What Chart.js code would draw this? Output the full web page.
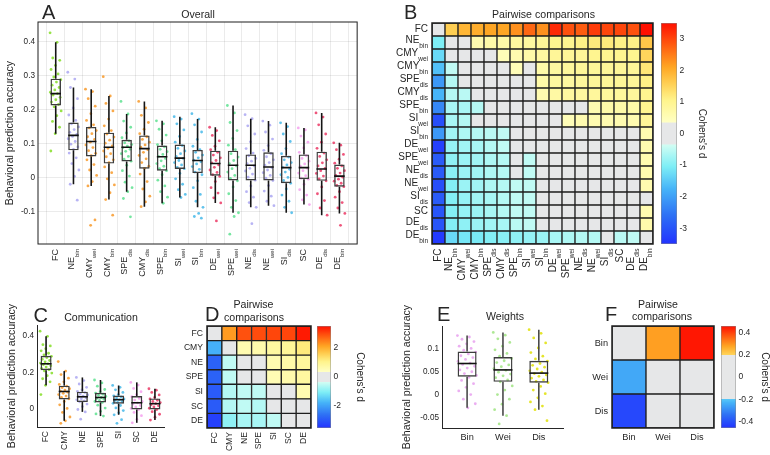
<!DOCTYPE html>
<html>
<head>
<meta charset="utf-8">
<script src="https://cdn.jsdelivr.net/npm/chart.js@4.4.0/dist/chart.umd.min.js"></script>
<style>
body { margin: 0; background: #fff; }
#fig { position: relative; width: 770px; height: 455px; overflow: hidden; font-family: 'Liberation Sans', Arial, Helvetica, sans-serif; color: #262626; }
#fig canvas { position: absolute; }
.t { position: absolute; white-space: nowrap; line-height: 1; }
.letter { font-size: 20px; }
.ttl { font-size: 10.6px; transform: translateX(-50%); }
</style>
</head>
<body>
<div id="fig">
  <canvas id="cA"></canvas>
  <canvas id="cB"></canvas>
  <canvas id="cBbar"></canvas>
  <canvas id="cC"></canvas>
  <canvas id="cD"></canvas>
  <canvas id="cDbar"></canvas>
  <canvas id="cE"></canvas>
  <canvas id="cF"></canvas>
  <canvas id="cFbar"></canvas>

  <div class="t letter" style="left:42px;top:2px">A</div>
  <div class="t letter" style="left:404px;top:1.5px">B</div>
  <div class="t letter" style="left:33.5px;top:304.5px">C</div>
  <div class="t letter" style="left:205px;top:304px">D</div>
  <div class="t letter" style="left:437px;top:304px">E</div>
  <div class="t letter" style="left:605px;top:304px">F</div>

  <div class="t ttl" style="left:198px;top:9.3px">Overall</div>
  <div class="t ttl" style="left:543.5px;top:9.3px">Pairwise comparisons</div>
  <div class="t ttl" style="left:101px;top:311.7px">Communication</div>
  <div class="t ttl" style="left:253.5px;top:299px">Pairwise</div>
  <div class="t ttl" style="left:254px;top:311.7px">comparisons</div>
  <div class="t ttl" style="left:505px;top:311px">Weights</div>
  <div class="t ttl" style="left:658px;top:298.5px">Pairwise</div>
  <div class="t ttl" style="left:662px;top:311px">comparisons</div>
</div>

<script>
// ---------- labels shared by A and B (same order) ----------
const pairMain = ['FC','NE','CMY','CMY','SPE','CMY','SPE','SI','SI','DE','SPE','NE','NE','SI','SC','DE','DE'];
const pairSub  = ['','bin','wei','bin','dis','dis','bin','wei','bin','wei','wei','dis','wei','dis','','dis','bin'];

// ---------- A : overall ----------
const aYTicks = [-0.1, 0, 0.1, 0.2, 0.3, 0.4];
const aQ1  = [0.212, 0.080, 0.062, 0.041, 0.047, 0.026, 0.020, 0.025, 0.013, 0.005, -0.009, -0.009, -0.009, -0.017, -0.005, -0.010, -0.027];
const aMed = [0.247, 0.124, 0.106, 0.089, 0.089, 0.085, 0.061, 0.057, 0.050, 0.041, 0.036, 0.036, 0.031, 0.029, 0.029, 0.025, 0.004];
const aQ3  = [0.291, 0.162, 0.149, 0.132, 0.111, 0.124, 0.094, 0.097, 0.081, 0.079, 0.079, 0.068, 0.074, 0.064, 0.068, 0.076, 0.038];
const aLow = [0.129, -0.020, -0.025, -0.065, -0.042, -0.086, -0.076, -0.059, -0.088, -0.075, -0.104, -0.088, -0.083, -0.104, -0.080, -0.111, -0.106];
const aHigh= [0.398, 0.265, 0.260, 0.240, 0.187, 0.224, 0.167, 0.179, 0.172, 0.148, 0.212, 0.173, 0.166, 0.161, 0.146, 0.190, 0.102];
const aPoints = [
  [0.426, 0.398, 0.352, 0.345, 0.33, 0.318, 0.305, 0.296, 0.288, 0.281, 0.272, 0.265, 0.258, 0.251, 0.247, 0.243, 0.236, 0.229, 0.222, 0.215, 0.208, 0.196, 0.182, 0.165, 0.148, 0.129, 0.078],
  [0.31, 0.29, 0.265, 0.232, 0.205, 0.184, 0.168, 0.158, 0.149, 0.141, 0.133, 0.127, 0.121, 0.114, 0.106, 0.098, 0.09, 0.083, 0.072, 0.058, 0.041, 0.022, 0.003, -0.02, -0.067],
  [0.26, 0.253, 0.232, 0.21, 0.188, 0.168, 0.155, 0.146, 0.138, 0.129, 0.12, 0.112, 0.104, 0.096, 0.088, 0.079, 0.071, 0.064, 0.052, 0.038, 0.022, 0.006, -0.012, -0.025, -0.125, -0.141],
  [0.297, 0.24, 0.218, 0.196, 0.172, 0.152, 0.138, 0.128, 0.119, 0.11, 0.101, 0.093, 0.086, 0.078, 0.07, 0.061, 0.052, 0.044, 0.031, 0.014, -0.004, -0.022, -0.045, -0.065, -0.111],
  [0.224, 0.187, 0.166, 0.148, 0.131, 0.117, 0.108, 0.102, 0.097, 0.092, 0.088, 0.083, 0.077, 0.07, 0.062, 0.054, 0.048, 0.036, 0.02, 0.004, -0.014, -0.03, -0.042, -0.062, -0.116],
  [0.224, 0.205, 0.183, 0.162, 0.142, 0.129, 0.12, 0.112, 0.104, 0.096, 0.089, 0.082, 0.074, 0.065, 0.055, 0.044, 0.033, 0.027, 0.01, -0.012, -0.034, -0.055, -0.072, -0.086],
  [0.167, 0.158, 0.142, 0.125, 0.108, 0.097, 0.09, 0.083, 0.076, 0.068, 0.062, 0.056, 0.049, 0.041, 0.033, 0.026, 0.02, 0.008, -0.008, -0.025, -0.042, -0.058, -0.076],
  [0.179, 0.172, 0.158, 0.14, 0.121, 0.104, 0.094, 0.086, 0.078, 0.07, 0.062, 0.056, 0.05, 0.044, 0.037, 0.03, 0.026, 0.012, -0.004, -0.02, -0.036, -0.05, -0.059],
  [0.188, 0.172, 0.155, 0.134, 0.112, 0.092, 0.082, 0.074, 0.066, 0.058, 0.051, 0.046, 0.04, 0.032, 0.024, 0.016, 0.008, -0.01, -0.03, -0.05, -0.07, -0.088, -0.106, -0.115, -0.12],
  [0.148, 0.138, 0.124, 0.108, 0.092, 0.082, 0.074, 0.066, 0.058, 0.05, 0.043, 0.037, 0.03, 0.022, 0.015, 0.008, 0.003, -0.012, -0.03, -0.046, -0.06, -0.075, -0.128],
  [0.212, 0.19, 0.162, 0.138, 0.115, 0.095, 0.082, 0.07, 0.06, 0.05, 0.041, 0.034, 0.026, 0.016, 0.006, -0.003, -0.01, -0.028, -0.048, -0.068, -0.088, -0.104, -0.115, -0.167],
  [0.185, 0.173, 0.152, 0.128, 0.105, 0.085, 0.072, 0.064, 0.056, 0.048, 0.041, 0.034, 0.027, 0.019, 0.01, 0.001, -0.008, -0.025, -0.042, -0.058, -0.074, -0.088, -0.136],
  [0.166, 0.154, 0.134, 0.113, 0.094, 0.08, 0.07, 0.061, 0.052, 0.044, 0.036, 0.029, 0.022, 0.014, 0.006, -0.002, -0.009, -0.024, -0.04, -0.055, -0.07, -0.083],
  [0.161, 0.15, 0.128, 0.106, 0.085, 0.07, 0.06, 0.052, 0.044, 0.037, 0.03, 0.024, 0.016, 0.008, 0.0, -0.009, -0.017, -0.034, -0.052, -0.07, -0.088, -0.104],
  [0.146, 0.14, 0.122, 0.104, 0.087, 0.074, 0.064, 0.056, 0.048, 0.04, 0.033, 0.027, 0.02, 0.013, 0.005, -0.002, -0.005, -0.02, -0.036, -0.052, -0.066, -0.08],
  [0.19, 0.178, 0.155, 0.128, 0.104, 0.086, 0.072, 0.062, 0.052, 0.043, 0.034, 0.027, 0.02, 0.012, 0.004, -0.004, -0.01, -0.028, -0.048, -0.068, -0.09, -0.111],
  [0.102, 0.095, 0.082, 0.068, 0.054, 0.042, 0.034, 0.027, 0.02, 0.013, 0.006, 0.001, -0.005, -0.011, -0.017, -0.023, -0.027, -0.042, -0.058, -0.074, -0.09, -0.106, -0.141]
];

// ---------- B : pairwise Cohen's d (rows/cols in pair order) ----------
const bTicks = [-3, -2, -1, 0, 1, 2, 3];
const bD = [
  [0, 1.6, 1.9, 2.0, 2.1, 2.1, 2.3, 2.7, 2.3, 3.25, 2.9, 2.8, 3.1, 3.0, 3.0, 2.9, 3.5],
  [-1.05, 0, 0, 0.6, 0.7, 0.7, 0.8, 0.8, 0.9, 1.0, 1.0, 1.1, 1.2, 1.2, 1.1, 1.1, 1.7],
  [-1.3, 0, 0, 0, 0, 0.5, 0.6, 0.7, 0.8, 0.9, 0.9, 0.9, 1.0, 1.0, 1.0, 1.0, 1.5],
  [-1.6, -0.5, 0, 0, 0, 0, 0.5, 0, 0.7, 0.8, 0.85, 0.9, 0.9, 0.9, 0.9, 0.9, 1.25],
  [-2.1, -0.6, 0, 0, 0, 0, 0, 0, 0.7, 0.8, 0.8, 0.85, 0.9, 0.9, 0.9, 0.9, 1.1],
  [-1.75, -0.6, -0.55, 0, 0, 0, 0, 0, 0.6, 0.75, 0.8, 0.8, 0.85, 0.85, 0.85, 0.85, 1.0],
  [-2.3, -0.7, -0.7, -0.6, 0, 0, 0, 0, 0, 0, 0, 0, 0.6, 0.7, 0.7, 0.7, 1.0],
  [-3.1, -0.7, -0.6, 0, 0, 0, 0, 0, 0, 0, 0.5, 0.6, 0.6, 0.6, 0.6, 0.6, 0.9],
  [-2.1, -0.75, -0.65, -0.6, -0.55, -0.5, 0, 0, 0, 0, 0, 0, 0, 0, 0, 0, 0.6],
  [-3.3, -0.85, -0.75, -0.7, -0.6, -0.5, 0, 0, 0, 0, 0, 0, 0, 0, 0, 0, 0.6],
  [-2.9, -0.9, -0.8, -0.75, -0.65, -0.6, 0, -0.5, 0, 0, 0, 0, 0, 0, 0, 0, 0.6],
  [-2.9, -0.95, -0.8, -0.75, -0.65, -0.6, 0, -0.5, 0, 0, 0, 0, 0, 0, 0, 0, 0.6],
  [-3.1, -1.0, -0.8, -0.75, -0.65, -0.6, -0.5, -0.5, 0, 0, 0, 0, 0, 0, 0, 0, 0.6],
  [-2.9, -1.0, -0.85, -0.75, -0.7, -0.6, -0.5, -0.5, 0, 0, 0, 0, 0, 0, 0, 0, 0],
  [-3.0, -1.0, -0.85, -0.8, -0.7, -0.6, -0.5, -0.5, 0, 0, 0, 0, 0, 0, 0, 0, 0.6],
  [-3.0, -1.0, -0.9, -0.8, -0.75, -0.7, -0.55, -0.5, 0, 0, 0, 0, 0, 0, 0, 0, 0.65],
  [-3.4, -1.3, -1.15, -1.1, -1.0, -0.95, -0.9, -0.85, -0.8, -0.7, -0.65, -0.6, -0.6, 0, -0.55, -0.5, 0]
];

// ---------- C : communication ----------
const cLabels = ['FC', 'CMY', 'NE', 'SPE', 'SI', 'SC', 'DE'];
const cYTicks = [0, 0.2, 0.4];
const cQ1  = [0.212, 0.051, 0.037, 0.035, 0.028, -0.004, -0.004];
const cMed = [0.247, 0.095, 0.066, 0.062, 0.050, 0.033, 0.028];
const cQ3  = [0.291, 0.127, 0.094, 0.088, 0.073, 0.070, 0.057];
const cLow = [0.129, -0.066, -0.017, -0.040, -0.033, -0.077, -0.062];
const cHigh= [0.398, 0.207, 0.172, 0.158, 0.128, 0.145, 0.110];
const cPoints = [
  aPoints[0],
  [0.259, 0.207, 0.188, 0.168, 0.148, 0.134, 0.124, 0.117, 0.11, 0.103, 0.097, 0.091, 0.085, 0.078, 0.07, 0.062, 0.055, 0.04, 0.022, 0.002, -0.02, -0.045, -0.066, -0.08],
  [0.172, 0.155, 0.136, 0.118, 0.104, 0.096, 0.089, 0.082, 0.076, 0.07, 0.066, 0.061, 0.055, 0.049, 0.043, 0.038, 0.026, 0.012, -0.004, -0.017, -0.057],
  [0.158, 0.142, 0.124, 0.106, 0.094, 0.086, 0.08, 0.074, 0.068, 0.062, 0.057, 0.052, 0.046, 0.04, 0.035, 0.02, 0.004, -0.014, -0.028, -0.04],
  [0.128, 0.118, 0.104, 0.09, 0.078, 0.071, 0.065, 0.059, 0.054, 0.049, 0.045, 0.04, 0.035, 0.03, 0.018, 0.005, -0.01, -0.022, -0.033, -0.06, -0.08],
  [0.145, 0.13, 0.112, 0.094, 0.078, 0.066, 0.057, 0.048, 0.04, 0.033, 0.026, 0.018, 0.01, 0.002, -0.004, -0.02, -0.038, -0.058, -0.077],
  [0.11, 0.102, 0.09, 0.076, 0.062, 0.054, 0.047, 0.04, 0.034, 0.028, 0.022, 0.016, 0.01, 0.003, -0.004, -0.016, -0.03, -0.046, -0.062]
];

// ---------- D : communication pairwise ----------
const dTicks = [-2, 0, 2];
const dD = [
  [0, 2.2, 2.9, 2.95, 3.0, 3.0, 3.4],
  [-1.8, 0, 0.6, 0.65, 0.8, 0.9, 1.2],
  [-2.8, -0.5, 0, 0, 0.6, 0.7, 0.85],
  [-2.8, -0.5, 0, 0, 0.55, 0.65, 0.8],
  [-2.9, -0.6, -0.5, -0.5, 0, 0, 0.6],
  [-2.9, -0.6, -0.5, -0.6, 0, 0, 0],
  [-3.3, -0.9, -0.7, -0.7, -0.5, 0, 0]
];

// ---------- E : weights ----------
const eLabels = ['Bin', 'Wei', 'Dis'];
const eYTicks = [-0.05, 0, 0.05, 0.1];
const eQ1  = [0.039, 0.028, 0.026];
const eMed = [0.068, 0.054, 0.047];
const eQ3  = [0.094, 0.082, 0.074];
const eLow = [-0.029, -0.046, -0.033];
const eHigh= [0.129, 0.136, 0.142];
const ePoints = [
  [0.129, 0.126, 0.121, 0.116, 0.111, 0.106, 0.101, 0.097, 0.093, 0.089, 0.085, 0.081, 0.077, 0.073, 0.069, 0.066, 0.062, 0.058, 0.054, 0.05, 0.046, 0.042, 0.038, 0.031, 0.024, 0.016, 0.008, 0.0, -0.01, -0.02, -0.029],
  [0.136, 0.13, 0.122, 0.114, 0.106, 0.098, 0.09, 0.084, 0.079, 0.074, 0.07, 0.065, 0.061, 0.057, 0.053, 0.049, 0.045, 0.041, 0.037, 0.032, 0.028, 0.019, 0.01, 0.0, -0.01, -0.021, -0.033, -0.046, -0.064],
  [0.142, 0.134, 0.124, 0.113, 0.102, 0.092, 0.084, 0.078, 0.073, 0.068, 0.064, 0.06, 0.056, 0.052, 0.049, 0.046, 0.043, 0.04, 0.036, 0.032, 0.029, 0.026, 0.018, 0.01, 0.002, -0.007, -0.016, -0.025, -0.033, -0.057]
];

// ---------- F : weights pairwise ----------
const fTicks = [-0.4, -0.2, 0, 0.2, 0.4];
const fD = [
  [0, 0.285, 0.45],
  [-0.25, 0, 0],
  [-0.42, 0, 0]
];

// ---------------- styling ----------------
const FONT = "'Liberation Sans', Arial, Helvetica, sans-serif";
const INK = '#262626';
const GREY = '#e6e7e8';
const typeColor = {
  FC: 'rgba(125,220,25,0.8)', NE: 'rgba(160,155,240,0.75)', CMY: 'rgba(247,148,29,0.8)',
  SPE: 'rgba(72,222,130,0.75)', SI: 'rgba(45,175,230,0.75)', DE: 'rgba(232,30,80,0.75)', SC: 'rgba(244,160,238,0.85)'
};
const weightColor = ['rgba(232,160,238,0.85)', 'rgba(160,228,130,0.85)', 'rgba(226,226,20,0.9)'];

// colormap: position (value / max) -> rgb, grey inside +-thr
const CMAP = [
  [-1, [34, 51, 255]], [-0.75, [45, 110, 245]], [-0.5, [70, 180, 248]], [-0.3, [125, 238, 246]],
  [-0.1, [210, 253, 243]], [0, [255, 255, 255]], [0.1, [255, 255, 196]], [0.3, [255, 244, 140]],
  [0.45, [255, 208, 84]], [0.6, [255, 166, 36]], [0.8, [255, 92, 16]], [1, [255, 15, 0]]
];
function cmap(v, max, thr) {
  if (Math.abs(v) < thr) return GREY;
  const t = Math.max(-1, Math.min(1, v / max));
  for (let i = 1; i < CMAP.length; i++) {
    if (t <= CMAP[i][0]) {
      const [t0, c0] = CMAP[i - 1], [t1, c1] = CMAP[i];
      const f = (t - t0) / (t1 - t0);
      return 'rgb(' + c0.map((c, k) => Math.round(c + (c1[k] - c) * f)).join(',') + ')';
    }
  }
  return 'rgb(255,15,0)';
}

// place a canvas; returns paddings between canvas box and wanted plot area
function place(id, box, area) {
  const el = document.getElementById(id);
  const [bl, bt, bw, bh] = box;
  el.width = bw; el.height = bh;
  el.style.left = bl + 'px'; el.style.top = bt + 'px';
  return { el, l: area[0] - bl, t: area[1] - bt, r: bl + bw - area[2], b: bt + bh - area[3] };
}
const fixW = w => s => { s.width = w; s.paddingTop = s.paddingBottom = s.paddingLeft = s.paddingRight = 0; };
const fixH = h => s => { s.height = h; s.paddingTop = s.paddingBottom = s.paddingLeft = s.paddingRight = 0; };
const setTicks = vals => s => { s.ticks = vals.map(v => ({ value: v })); };
const fmt = v => String(Math.round(v * 1000) / 1000);
const font = size => ({ family: FONT, size: size, lineHeight: 1 });
// golden ratio spread for the dots, not random
function jit(k, w) { return ((k * 0.618034) % 1 - 0.5) * 2 * w; }

const base = {
  responsive: false, animation: false, events: [],
  plugins: { legend: { display: false }, tooltip: { enabled: false } }
};

const framePlugin = (w) => ({
  id: 'frame',
  afterDatasetsDraw(chart) {
    const a = chart.chartArea, ctx = chart.ctx;
    ctx.save(); ctx.strokeStyle = '#1e1e1e'; ctx.lineWidth = w;
    ctx.strokeRect(a.left, a.top, a.right - a.left, a.bottom - a.top);
    ctx.restore();
  }
});

// text with subscript, right aligned at (x, y), optionally rotated to read upward
function drawSubText(ctx, x, y, rot, main, sub, fs, ss) {
  ctx.save();
  ctx.translate(x, y);
  if (rot) ctx.rotate(-Math.PI / 2);
  ctx.textBaseline = 'middle'; ctx.textAlign = 'left'; ctx.fillStyle = INK;
  ctx.font = ss + 'px ' + FONT;
  const wS = sub ? ctx.measureText(sub).width : 0;
  ctx.font = fs + 'px ' + FONT;
  const wM = ctx.measureText(main).width;
  ctx.fillText(main, -wM - wS, sub ? -1.8 : 0);
  if (sub) { ctx.font = ss + 'px ' + FONT; ctx.fillText(sub, -wS, 3.4); }
  ctx.restore();
}
const subLabelPlugin = (o) => ({
  id: 'subLabels',
  afterDraw(chart) {
    const ctx = chart.ctx;
    if (o.xVal) {
      const s = chart.scales.x;
      pairMain.forEach((m, i) => drawSubText(ctx, s.getPixelForValue(o.xVal(i)), s.top + o.gap, true, m, pairSub[i], o.fs, o.ss));
    }
    if (o.yVal) {
      const s = chart.scales.y;
      pairMain.forEach((m, i) => drawSubText(ctx, s.right - o.gap, s.getPixelForValue(o.yVal(i)), false, m, pairSub[i], o.fs, o.ss));
    }
  }
});

// ---------------- box plot ----------------
function boxChart(id, box, area, P) {
  const f = place(id, box, area);
  const ds = [];
  ds.push({ type: 'scatter', data: P.med.map((v, i) => ({ x: i + 1, y: v })), pointStyle: 'line',
    pointRadius: P.boxW / 2, pointBorderColor: '#111', pointBorderWidth: 1.6 });
  ds.push({ type: 'bar', data: P.low.map((v, i) => ({ x: i + 1, y: [v, P.q1[i]] })), backgroundColor: P.whisker,
    maxBarThickness: 1.6, grouped: false });
  ds.push({ type: 'bar', data: P.high.map((v, i) => ({ x: i + 1, y: [P.q3[i], v] })), backgroundColor: P.whisker,
    maxBarThickness: 1.6, grouped: false });
  ds.push({ type: 'bar', data: P.q1.map((v, i) => ({ x: i + 1, y: [v, P.q3[i]] })), backgroundColor: 'rgba(255,255,255,0)',
    borderColor: '#3d3d3d', borderWidth: 1.4, borderSkipped: false, maxBarThickness: P.boxW, grouped: false });
  P.points.forEach((arr, i) => ds.push({ type: 'scatter', data: arr.map((v, k) => ({ x: i + 1 + jit(k, P.spread), y: v })),
    pointRadius: 1.4, pointBackgroundColor: P.colors[i], pointBorderWidth: 0 }));

  const plugins = [];
  if (P.frame) plugins.push(framePlugin(1));
  if (P.subX) plugins.push(subLabelPlugin({ xVal: i => i + 1, gap: 5, fs: 9, ss: 6 }));

  return new Chart(f.el, {
    type: 'bar',
    data: { datasets: ds },
    options: Object.assign({}, base, {
      layout: { padding: { left: 0, top: f.t, right: f.r, bottom: 0 } },
      scales: {
        x: {
          type: 'linear', min: P.xMin, max: P.xMax, offset: false,
          afterBuildTicks: setTicks(P.labels.map((_, i) => i + 1)),
          afterFit: fixH(f.b),
          grid: { display: !!P.frame, color: 'rgba(0,0,0,0.08)', drawTicks: false },
          border: { display: !P.frame, color: INK },
          ticks: { display: !P.subX, autoSkip: false, maxRotation: P.rot, minRotation: P.rot, padding: P.xPad,
            font: font(P.xFont), color: INK, callback: (v, i) => P.labels[i] }
        },
        y: {
          min: P.yMin, max: P.yMax,
          afterBuildTicks: setTicks(P.yTicks),
          afterFit: fixW(f.l),
          grid: { display: !!P.frame, color: 'rgba(0,0,0,0.08)', drawTicks: false },
          border: { display: !P.frame, color: INK },
          ticks: { padding: 3, font: font(8.2), color: INK, callback: fmt },
          title: { display: true, text: 'Behavioral prediction accuracy', font: font(10.6), color: INK,
            padding: { top: P.titlePad, bottom: 0 } }
        }
      }
    }),
    plugins: plugins
  });
}

// ---------------- heat matrix ----------------
function matrixChart(id, box, area, M, labels, max, thr, o) {
  const f = place(id, box, area);
  const n = M.length;
  const ds = [];
  for (let k = 0; k < n; k++) {
    const row = M[n - 1 - k];
    ds.push({ data: row.map(() => 1), backgroundColor: row.map(v => cmap(v, max, thr)),
      borderColor: '#1e1e1e', borderWidth: 1, borderSkipped: false, barPercentage: 1, categoryPercentage: 1 });
  }
  const plugins = [framePlugin(1.5)];
  if (o.sub) plugins.push(subLabelPlugin({ xVal: i => i, gap: 4.5, fs: 10, ss: 6.5 }),
                         subLabelPlugin({ yVal: i => n - i - 0.5, gap: 4, fs: 10, ss: 6.5 }));
  return new Chart(f.el, {
    type: 'bar',
    data: { labels: labels, datasets: ds },
    options: Object.assign({}, base, {
      layout: { padding: { left: 0, top: f.t, right: f.r, bottom: 0 } },
      scales: {
        x: { stacked: true, afterFit: fixH(f.b), grid: { display: false, drawTicks: false }, border: { display: false },
          ticks: { display: !o.sub, autoSkip: false, maxRotation: o.rot, minRotation: o.rot, padding: o.xPad,
            font: font(o.fs), color: INK } },
        y: { stacked: true, min: 0, max: n, afterBuildTicks: setTicks(labels.map((_, k) => k + 0.5)),
          afterFit: fixW(f.l), grid: { display: false, drawTicks: false }, border: { display: false },
          ticks: { display: !o.sub, padding: 4, font: font(o.fs), color: INK,
            callback: v => labels[n - 1 - Math.floor(v)] } }
      }
    }),
    plugins: plugins
  });
}

// ---------------- colour bar ----------------
function colorBar(id, box, area, max, thr, ticks, titlePad) {
  const f = place(id, box, area);
  function grad(ctx) {
    const chart = ctx.chart;
    if (!chart.chartArea) return GREY;
    const y = chart.scales.y;
    const g = chart.ctx.createLinearGradient(0, y.getPixelForValue(-max), 0, y.getPixelForValue(max));
    for (let k = 0; k <= 100; k++) {
      const v = -max + 2 * max * k / 100;
      if (Math.abs(v) >= thr) g.addColorStop(k / 100, cmap(v, max, thr));
    }
    const p0 = (max - thr) / (2 * max), p1 = (max + thr) / (2 * max);
    g.addColorStop(p0, cmap(-thr, max, 0)); g.addColorStop(p0 + 0.0005, GREY);
    g.addColorStop(p1 - 0.0005, GREY); g.addColorStop(p1, cmap(thr, max, 0));
    return g;
  }
  return new Chart(f.el, {
    type: 'bar',
    data: { labels: [''], datasets: [{ data: [[-max, max]], backgroundColor: grad, borderColor: '#8a8a8a',
      borderWidth: 0.8, borderSkipped: false, barPercentage: 1, categoryPercentage: 1 }] },
    options: Object.assign({}, base, {
      layout: { padding: { left: f.l, top: f.t, right: 0, bottom: f.b } },
      scales: {
        x: { display: false },
        y: { position: 'right', min: -max, max: max, afterBuildTicks: setTicks(ticks), afterFit: fixW(f.r),
          grid: { display: false, drawTicks: false }, border: { display: false },
          ticks: { padding: 2.5, font: font(8.5), color: INK, callback: fmt },
          title: { display: true, text: "Cohens's d", font: font(10), color: INK, padding: { top: titlePad, bottom: 0 } } }
      }
    })
  });
}

// ---------------- build ----------------
boxChart('cA', [0, 0, 364, 300], [38, 22, 358, 244], {
  labels: pairMain, q1: aQ1, med: aMed, q3: aQ3, low: aLow, high: aHigh, points: aPoints,
  colors: pairMain.map(m => typeColor[m]), whisker: '#151515',
  xMin: 0, xMax: 18, yMin: -0.196, yMax: 0.458, yTicks: aYTicks,
  boxW: 10.5, spread: 0.32, frame: true, subX: true, rot: 90, xFont: 9, xPad: 4, titlePad: 5
});
matrixChart('cB', [380, 0, 276, 300], [432, 23, 653, 244], bD, pairMain, 3.5, 0.35, { sub: true });
colorBar('cBbar', [656, 0, 58, 300], [661, 23, 677, 244], 3.5, 0.35, bTicks, 7);

boxChart('cC', [0, 290, 175, 165], [37, 325, 164, 427], {
  labels: cLabels, q1: cQ1, med: cMed, q3: cQ3, low: cLow, high: cHigh, points: cPoints,
  colors: cLabels.map(m => typeColor[m]), whisker: '#151515',
  xMin: 0.5, xMax: 7.5, yMin: -0.1, yMax: 0.46, yTicks: cYTicks,
  boxW: 11, spread: 0.33, frame: false, subX: false, rot: 90, xFont: 8.5, xPad: 4, titlePad: 7
});
matrixChart('cD', [175, 290, 138, 165], [207, 326, 311, 428], dD, cLabels, 3.5, 0.35, { sub: false, rot: 90, fs: 8.6, xPad: 4 });
colorBar('cDbar', [313, 290, 60, 165], [317, 326, 331, 428], 3.5, 0.35, dTicks, 8);

boxChart('cE', [395, 290, 180, 165], [442, 326, 568, 428], {
  labels: eLabels, q1: eQ1, med: eMed, q3: eQ3, low: eLow, high: eHigh, points: ePoints,
  colors: weightColor, whisker: '#4a4a4a',
  xMin: 0.3, xMax: 3.7, yMin: -0.073, yMax: 0.15, yTicks: eYTicks,
  boxW: 19, spread: 0.27, frame: false, subX: false, rot: 0, xFont: 9.2, xPad: 5, titlePad: 7
});
matrixChart('cF', [575, 290, 140, 165], [612, 326, 714, 428], fD, eLabels, 0.46, 0.2, { sub: false, rot: 0, fs: 9.2, xPad: 5 });
colorBar('cFbar', [715, 290, 55, 165], [721, 326, 736, 428], 0.46, 0.2, fTicks, 0);
</script>
</body>
</html>
